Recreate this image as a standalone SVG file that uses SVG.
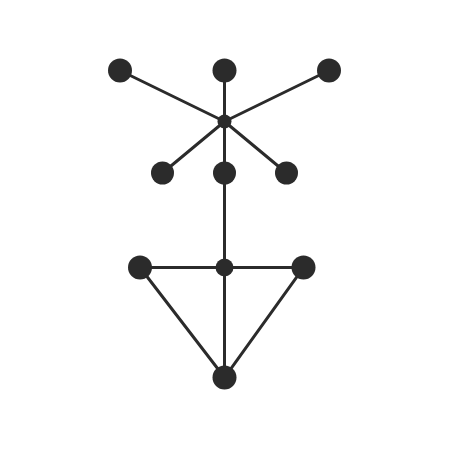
<svg xmlns="http://www.w3.org/2000/svg" width="450" height="450" viewBox="0 0 450 450">
<style>
.e{stroke:#2b2b2b;stroke-width:3;fill:none;stroke-linecap:round}
.n{fill:#2b2b2b}
</style>
<rect width="450" height="450" fill="#ffffff"/>
<g id="edges">
<line class="e" x1="120" y1="70.5" x2="224.5" y2="121.5"/>
<line class="e" x1="224.5" y1="70.5" x2="224.5" y2="121.5"/>
<line class="e" x1="329" y1="70.5" x2="224.5" y2="121.5"/>
<line class="e" x1="162.5" y1="173" x2="224.5" y2="121.5"/>
<line class="e" x1="286.5" y1="173" x2="224.5" y2="121.5"/>
<line class="e" x1="224.5" y1="121.5" x2="224.5" y2="377.5"/>
<line class="e" x1="140" y1="267.5" x2="303.5" y2="267.5"/>
<line class="e" x1="140" y1="267.5" x2="224.5" y2="377.5"/>
<line class="e" x1="303.5" y1="267.5" x2="224.5" y2="377.5"/>
</g>
<g id="n1"><circle class="n" cx="120" cy="70.5" r="12"/></g>
<g id="n2"><circle class="n" cx="224.5" cy="70.5" r="12"/></g>
<g id="n3"><circle class="n" cx="329" cy="70.5" r="12"/></g>
<g id="hub"><circle class="n" cx="224.5" cy="121.5" r="7"/></g>
<g id="n4"><circle class="n" cx="162.5" cy="173" r="11.5"/></g>
<g id="n5"><circle class="n" cx="224.5" cy="173" r="11.5"/></g>
<g id="n6"><circle class="n" cx="286.5" cy="173" r="11.5"/></g>
<g id="n7"><circle class="n" cx="140" cy="267.5" r="12"/></g>
<g id="n8"><circle class="n" cx="224.5" cy="267.5" r="9"/></g>
<g id="n9"><circle class="n" cx="303.5" cy="267.5" r="12"/></g>
<g id="n10"><circle class="n" cx="224.5" cy="377.5" r="12"/></g>
</svg>
